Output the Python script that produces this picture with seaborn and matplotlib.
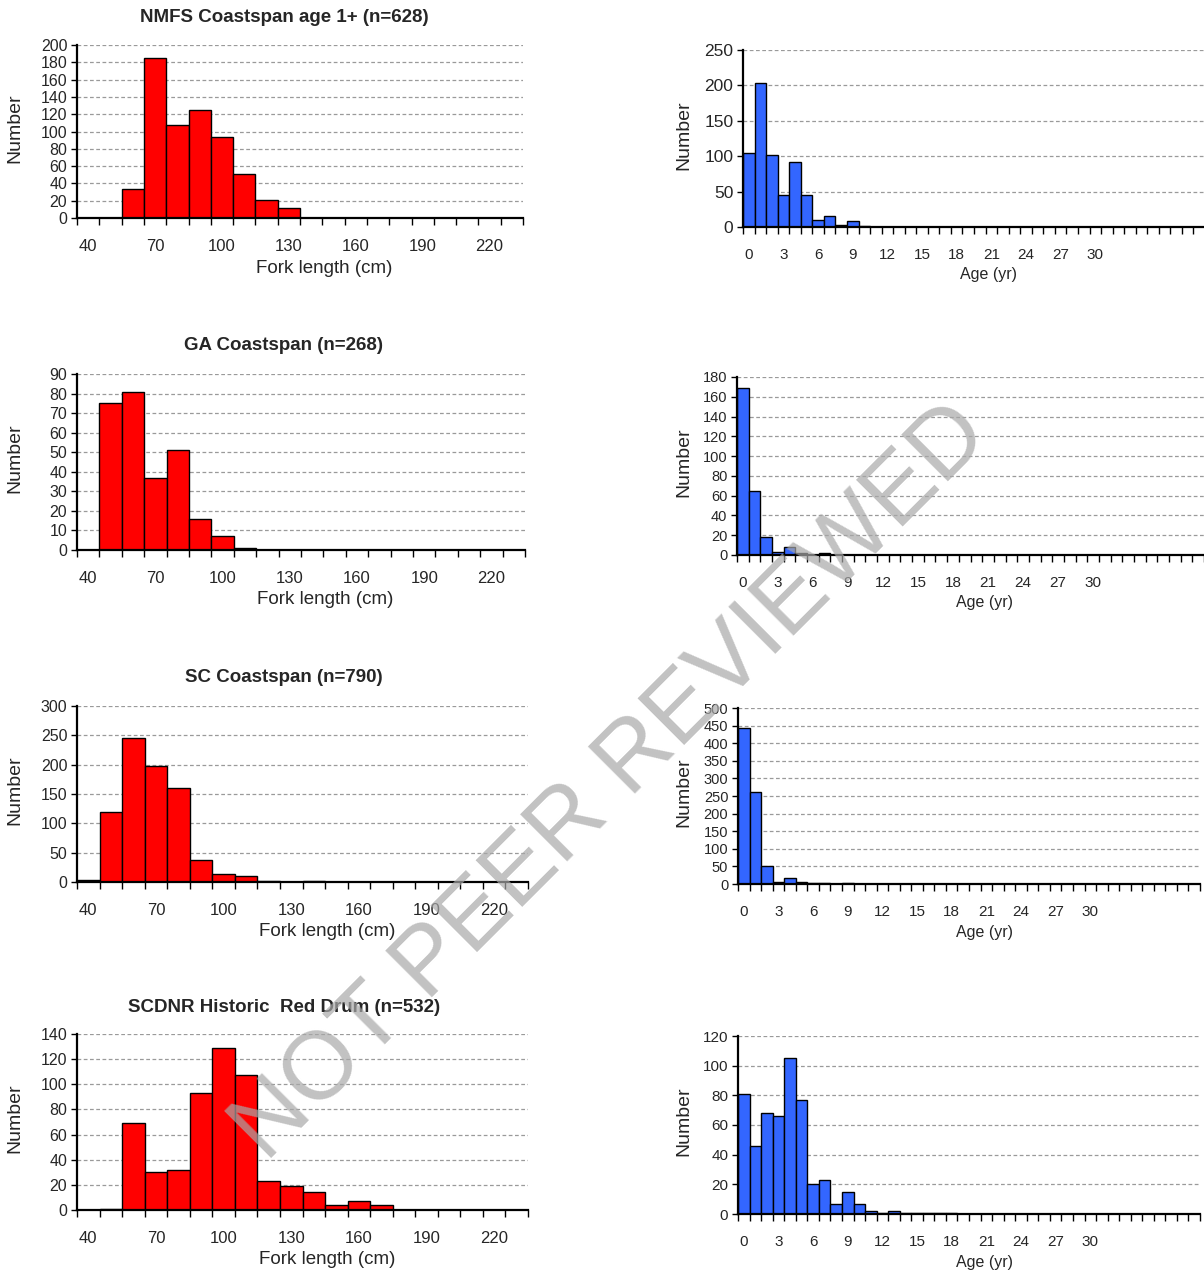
import matplotlib
matplotlib.use("Agg")
import matplotlib.pyplot as plt
import seaborn as sns
import pandas as pd
from matplotlib.ticker import MultipleLocator, FixedLocator

# fork length classes (cm) and age classes (yr)
length_bins = [40, 50, 60, 70, 80, 90, 100, 110, 120, 130,
               140, 150, 160, 170, 180, 190, 200, 210, 220, 230]
age_bins = [0, 1, 2, 3, 4, 5, 6, 7, 8, 9, 10, 11, 12, 13, 14, 15, 16, 17, 18, 19,
            20, 21, 22, 23, 24, 25, 26, 27, 28, 29, 30, 31, 32, 33, 34, 35, 36, 37, 38, 39]

nmfs_len = [0, 0, 34, 185, 107, 125, 94, 51, 21, 11, 0, 0, 0, 0, 0, 0, 0, 0, 0, 0]
ga_len = [0, 75, 81, 37, 51, 16, 7, 1, 0, 0, 0, 0, 0, 0, 0, 0, 0, 0, 0, 0]
sc_len = [3, 119, 245, 198, 160, 37, 13, 11, 2, 0, 2, 0, 0, 0, 0, 0, 0, 0, 0, 0]
hist_len = [0, 1, 69, 30, 32, 93, 129, 107, 23, 19, 14, 4, 7, 4, 0, 0, 0, 0, 0, 0]

nmfs_age = [105, 204, 101, 45, 92, 45, 10, 15, 3, 8, 1] + [0] * 29
ga_age = [169, 65, 18, 3, 8, 2, 0, 2] + [0] * 32
sc_age = [442, 260, 50, 6, 17, 6, 2, 2, 0, 2] + [0] * 30
hist_age = [81, 46, 68, 66, 105, 77, 20, 23, 7, 15, 7, 2, 1, 2, 1, 1, 1, 1, 1] + [0] * 21

titles = ["NMFS Coastspan age 1+ (n=628)", "GA Coastspan (n=268)",
          "SC Coastspan (n=790)", "SCDNR Historic  Red Drum (n=532)"]
len_series = [nmfs_len, ga_len, sc_len, hist_len]
age_series = [nmfs_age, ga_age, sc_age, hist_age]
len_ylims = [(200, 20), (90, 10), (300, 50), (140, 20)]
age_ylims = [(250, 50), (180, 20), (500, 50), (120, 20)]

W, H = 1204, 1275
# pixel boxes (left, right, top, bottom)
left_boxes = [(77, 523, 45, 218), (77, 525, 374, 550), (77, 528, 706, 882), (77, 528, 1034, 1210)]
right_boxes = [(743, 1205, 50, 227), (737, 1204, 377, 555), (738, 1200, 708, 884), (738, 1200, 1036, 1214)]
title_y = [17, 346, 678, 1007]

sns.set_style("white")
plt.rcParams["font.family"] = ["Liberation Sans", "DejaVu Sans"]

fig = plt.figure(figsize=(W / 100, H / 100), dpi=100)


def make_ax(box):
    l, r, t, b = box
    return fig.add_axes([l / W, 1 - b / H, (r - l) / W, (b - t) / H])


def draw(ax, box, cats, vals, color, ylim, tick_fs, ytick_fs, xlabel, xlab_fs, xlab_center, ylab_x):
    df = pd.DataFrame({"cls": cats, "n": vals})
    sns.barplot(data=df, x="cls", y="n", order=cats, color=color, width=1.0,
                edgecolor="black", linewidth=1.0, saturation=1, ax=ax, zorder=3)
    top, step = ylim
    ax.set_ylim(0, top)
    ax.set_xlim(-0.5, len(cats) - 0.5)
    ax.yaxis.set_major_locator(MultipleLocator(step))
    ax.grid(axis="y", color="#9a9a9a", linestyle=(0, (3, 2)), linewidth=0.9, zorder=0)
    ax.set_axisbelow(True)
    for s in ["top", "right"]:
        ax.spines[s].set_visible(False)
    for s in ["left", "bottom"]:
        ax.spines[s].set_color("black")
        ax.spines[s].set_linewidth(1.6)
        ax.spines[s].set_zorder(4)
    idx = list(range(0, 31 if len(cats) > 30 else len(cats), 3))
    ax.set_xticks(idx)
    ax.set_xticklabels([str(cats[i]) for i in idx])
    ax.xaxis.set_minor_locator(FixedLocator([i - 0.5 for i in range(len(cats) + 1)]))
    ax.tick_params(axis="x", which="major", length=0, pad=15, labelsize=tick_fs)
    ax.tick_params(axis="x", which="minor", length=5, width=1.0, color="black", direction="out")
    ax.tick_params(axis="y", which="major", length=4, width=1.0, color="black",
                   direction="out", pad=3, labelsize=ytick_fs, left=True)
    ax.tick_params(axis="x", bottom=True, which="both")
    l, r, t, b = box
    ax.set_ylabel("Number", fontsize=14)
    ax.yaxis.set_label_coords((ylab_x - l) / (r - l), 0.52)
    ax.yaxis.label.set_va("center")
    ax.set_xlabel(xlabel, fontsize=xlab_fs)
    ax.xaxis.set_label_coords((xlab_center[0] - l) / (r - l), (b - xlab_center[1]) / (b - t))
    ax.xaxis.label.set_va("center")


len_xlab = [(324, 269), (325, 600), (327, 932), (327, 1260)]
age_xlab = [(988, 275), (985, 603), (985, 932), (985, 1263)]
age_ytick_fs = [12.5, 10.5, 10.5, 11]

for i in range(4):
    axl = make_ax(left_boxes[i])
    draw(axl, left_boxes[i], length_bins, len_series[i], "#ff0000", len_ylims[i],
         12, 11.5, "Fork length (cm)", 13.5, len_xlab[i], 15)
    fig.text(284 / W, 1 - title_y[i] / H, titles[i], ha="center", va="center",
             fontsize=13.5, fontweight="bold")

    axr = make_ax(right_boxes[i])
    draw(axr, right_boxes[i], age_bins, age_series[i], "#3366ff", age_ylims[i],
         11, age_ytick_fs[i], "Age (yr)", 11.5, age_xlab[i], 684)

fig.text(0.508, 0.386, "NOT PEER REVIEWED", rotation=45, fontsize=69,
         color="#a8a8a8", alpha=0.7, ha="center", va="center", zorder=10)

fig.savefig("out.png", dpi=100)
